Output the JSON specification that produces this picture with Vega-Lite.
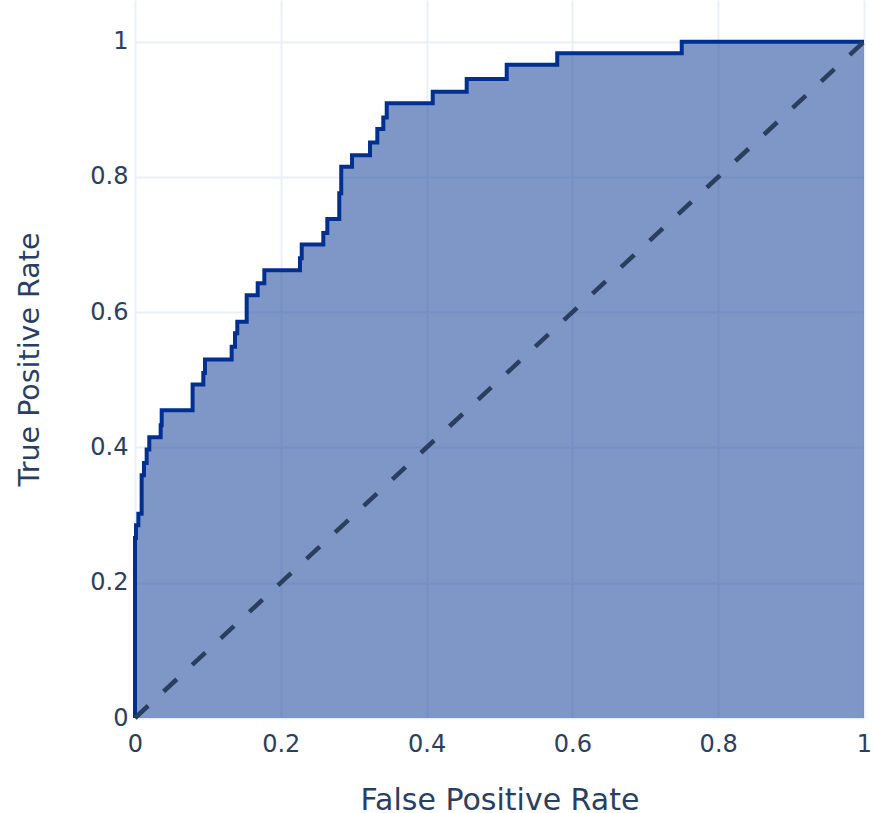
{
  "$schema": "https://vega.github.io/schema/vega-lite/v6.json",
  "autosize": "none",
  "padding": {"left": 135, "top": 0, "right": 10, "bottom": 95},
  "width": 729,
  "height": 718,
  "background": "white",
  "config": {
    "view": {"stroke": null},
    "font": "DejaVu Sans",
    "axis": {
      "domain": false,
      "ticks": false,
      "tickSize": 0,
      "labelFlush": false,
      "gridColor": "#ebf0f8",
      "gridWidth": 2,
      "labelColor": "#2a3f5f",
      "titleColor": "#2a3f5f",
      "labelFont": "DejaVu Sans",
      "titleFont": "DejaVu Sans",
      "labelFontSize": 24,
      "titleFontWeight": "normal"
    }
  },
  "datasets": {
    "roc": [
      {"i": 0, "fpr": 0, "tpr": 0},
      {"i": 1, "fpr": 0, "tpr": 0.266},
      {"i": 2, "fpr": 0.0014, "tpr": 0.285},
      {"i": 3, "fpr": 0.0046, "tpr": 0.302},
      {"i": 4, "fpr": 0.0091, "tpr": 0.359},
      {"i": 5, "fpr": 0.0123, "tpr": 0.377},
      {"i": 6, "fpr": 0.016, "tpr": 0.397},
      {"i": 7, "fpr": 0.0196, "tpr": 0.415},
      {"i": 8, "fpr": 0.0352, "tpr": 0.433},
      {"i": 9, "fpr": 0.0366, "tpr": 0.455},
      {"i": 10, "fpr": 0.079, "tpr": 0.493},
      {"i": 11, "fpr": 0.0937, "tpr": 0.51},
      {"i": 12, "fpr": 0.096, "tpr": 0.53},
      {"i": 13, "fpr": 0.1326, "tpr": 0.549},
      {"i": 14, "fpr": 0.1372, "tpr": 0.569},
      {"i": 15, "fpr": 0.1403, "tpr": 0.586},
      {"i": 16, "fpr": 0.1532, "tpr": 0.625},
      {"i": 17, "fpr": 0.1683, "tpr": 0.643},
      {"i": 18, "fpr": 0.1774, "tpr": 0.662},
      {"i": 19, "fpr": 0.2263, "tpr": 0.68},
      {"i": 20, "fpr": 0.2287, "tpr": 0.7},
      {"i": 21, "fpr": 0.2583, "tpr": 0.717},
      {"i": 22, "fpr": 0.2638, "tpr": 0.738},
      {"i": 23, "fpr": 0.2802, "tpr": 0.776},
      {"i": 24, "fpr": 0.2829, "tpr": 0.815},
      {"i": 25, "fpr": 0.2977, "tpr": 0.832},
      {"i": 26, "fpr": 0.3224, "tpr": 0.851},
      {"i": 27, "fpr": 0.3324, "tpr": 0.871},
      {"i": 28, "fpr": 0.3406, "tpr": 0.888},
      {"i": 29, "fpr": 0.3453, "tpr": 0.909},
      {"i": 30, "fpr": 0.4084, "tpr": 0.926},
      {"i": 31, "fpr": 0.455, "tpr": 0.945},
      {"i": 32, "fpr": 0.5099, "tpr": 0.966},
      {"i": 33, "fpr": 0.5792, "tpr": 0.983},
      {"i": 34, "fpr": 0.75, "tpr": 1.0},
      {"i": 35, "fpr": 1.0, "tpr": 1.0}
    ],
    "diag": [
      {"fpr": 0, "tpr": 0},
      {"fpr": 1, "tpr": 1}
    ]
  },
  "encoding": {
    "x": {
      "field": "fpr", "type": "quantitative",
      "scale": {"domain": [0, 1], "nice": false, "zero": false},
      "axis": {
        "title": "False Positive Rate",
        "titleFontSize": 30,
        "values": [0, 0.2, 0.4, 0.6, 0.8, 1],
        "format": "~g",
        "labelBaseline": "alphabetic",
        "labelPadding": 33,
        "titleBaseline": "alphabetic",
        "titleY": 91
      }
    },
    "y": {
      "field": "tpr", "type": "quantitative",
      "scale": {"domain": [0, 1.0617], "nice": false, "zero": false},
      "axis": {
        "title": "True Positive Rate",
        "titleFontSize": 28.5,
        "values": [0, 0.2, 0.4, 0.6, 0.8, 1],
        "format": "~g",
        "labelPadding": 7,
        "titleBaseline": "middle",
        "titleX": -106,
        "titleY": 359
      }
    }
  },
  "layer": [
    {
      "data": {"name": "roc"},
      "transform": [{"filter": "datum.i > 0"}],
      "mark": {"type": "area", "interpolate": "step-after", "color": "#00308f", "opacity": 0.5},
      "encoding": {"y": {"field": "tpr", "type": "quantitative", "stack": null}}
    },
    {
      "data": {"name": "roc"},
      "mark": {"type": "line", "interpolate": "step-after", "color": "#00308f", "strokeWidth": 4, "strokeJoin": "miter"},
      "encoding": {"order": {"field": "i", "type": "quantitative"}}
    },
    {
      "data": {"name": "diag"},
      "mark": {"type": "line", "color": "#2a3f5f", "strokeWidth": 4.5, "strokeDash": [18, 21]},
      "encoding": {}
    }
  ]
}
